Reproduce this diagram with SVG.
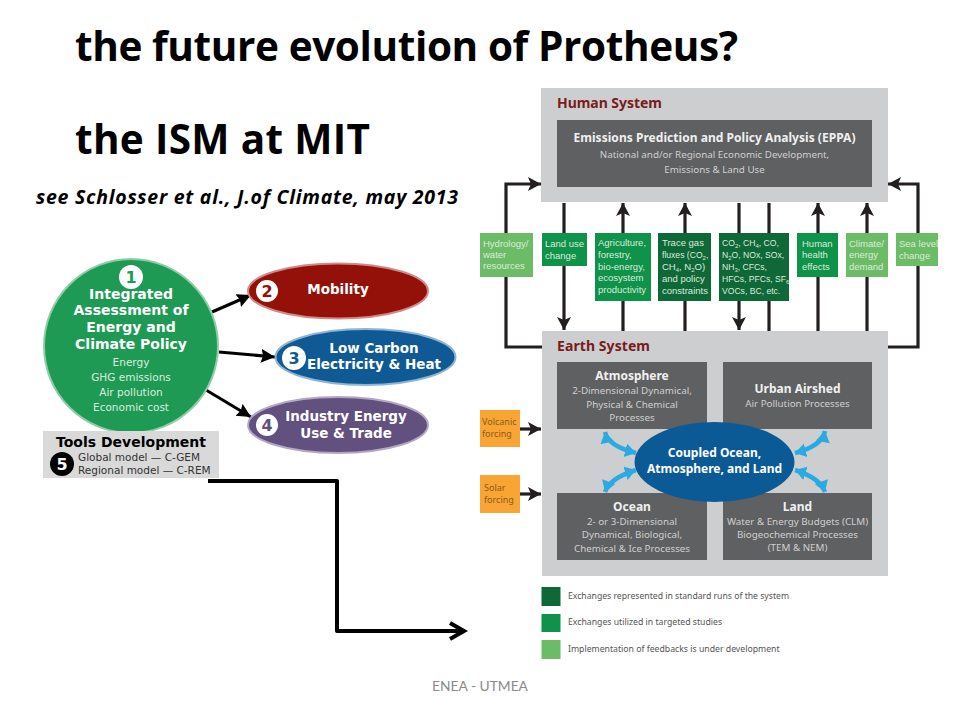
<svg xmlns="http://www.w3.org/2000/svg" width="960" height="720" viewBox="0 0 960 720">
<style>
text{font-family:"Noto Sans","Open Sans",sans-serif}
.t{font-family:"Open Sans","Noto Sans",sans-serif;font-weight:700;fill:#000}
.d{font-family:"DejaVu Sans",sans-serif}
.db{font-family:"DejaVu Sans",sans-serif;font-weight:700;fill:#fff;text-anchor:middle}
.ds{font-family:"DejaVu Sans",sans-serif;fill:#d8eedd;text-anchor:middle;font-size:10.5px}
.sys{font-weight:700;fill:#7a1c1c;font-size:14px}
.panel{fill:#cdced0}
.dark{fill:#5f6062}
.hb{font-weight:700;fill:#f0f0f0;font-size:12px;text-anchor:middle}
.hs{fill:#cfcfcf;font-size:9.8px;text-anchor:middle}
.g1{fill:#6cbb66}.g2{fill:#0f9249}.g3{fill:#0f6838}
.gt{font-family:"Liberation Sans","Noto Sans",sans-serif;fill:#dcebdc;font-size:9.5px}
.gs{font-size:8.6px}
.s{font-size:6px}
.or{fill:#f9a533}
.ot{fill:#8a5a1e;font-size:9px}
.leg{fill:#555;font-size:8.7px}
.ln{fill:none;stroke:#231f20;stroke-width:3.2}
.hd{marker-end:url(#h)}
.bl{fill:none;stroke:#29abe2;stroke-width:4.5;marker-start:url(#bs);marker-end:url(#be)}
.bk{fill:none;stroke:#000;stroke-width:3;marker-end:url(#k)}
.w{fill:#fff}
.num{font-family:"DejaVu Sans",sans-serif;font-weight:700;text-anchor:middle}
</style>
<defs>
<marker id="h" markerUnits="userSpaceOnUse" markerWidth="16" markerHeight="16" refX="13" refY="7" orient="auto"><path d="M0 0L13 7L0 14L3 7Z" fill="#231f20"/></marker>
<marker id="k" markerUnits="userSpaceOnUse" markerWidth="18" markerHeight="16" refX="14" refY="7" orient="auto"><path d="M0 0L14 7L0 14L2 7Z" fill="#000"/></marker>
<marker id="be" markerUnits="userSpaceOnUse" markerWidth="16" markerHeight="16" refX="11" refY="7" orient="auto"><path d="M0 0L11 7L0 14Z" fill="#29abe2"/></marker>
<marker id="bs" markerUnits="userSpaceOnUse" markerWidth="16" markerHeight="16" refX="0" refY="7" orient="auto"><path d="M11 0L0 7L11 14Z" fill="#29abe2"/></marker>
</defs>

<g id="title">
<text class="t" x="75" y="61" font-size="40.5" textLength="663">the future evolution of Protheus?</text>
<text class="t" x="75" y="154" font-size="40.5" textLength="295">the ISM at MIT</text>
<text class="t" x="36" y="204" font-size="19.5" font-style="italic" textLength="422">see Schlosser et al., J.of Climate, may 2013</text>
</g>

<g id="connectors">
<path class="ln hd" d="M506 233V184H541"/>
<path class="ln" d="M506 277V347H542"/>
<path class="ln hd" d="M918 233V184H888"/>
<path class="ln" d="M918 266V347H888"/>
<path class="ln" d="M564 203V233"/><path class="ln hd" d="M564 266V330"/>
<path class="ln hd" d="M623 233V203"/><path class="ln" d="M623 301V331"/>
<path class="ln hd" d="M685 233V203"/><path class="ln" d="M685 301V331"/>
<path class="ln" d="M739 203V233"/><path class="ln hd" d="M739 301V330"/>
<path class="ln" d="M769 203V233"/><path class="ln hd" d="M769 301V362"/>
<path class="ln hd" d="M818 233V203"/><path class="ln" d="M818 277V331"/>
<path class="ln hd" d="M867 233V203"/><path class="ln" d="M867 277V331"/>
<path class="bk" d="M212 312L251 295"/>
<path class="bk" d="M219 352L275 357"/>
<path class="bk" d="M206 390L251 417"/>
<path d="M208 481H337V631H463" fill="none" stroke="#000" stroke-width="4" stroke-linejoin="round"/>
<path d="M450 623L464 631L450 639" fill="none" stroke="#000" stroke-width="4"/>
</g>

<g id="human-system">
<rect class="panel" x="541" y="88" width="347" height="114"/>
<text class="sys" x="557" y="108" textLength="105">Human System</text>
</g>
<g id="eppa">
<rect class="dark" x="557" y="120" width="315" height="67"/>
<text class="hb" x="714.5" y="141.5" textLength="282">Emissions Prediction and Policy Analysis (EPPA)</text>
<text class="hs" x="714.5" y="158">National and/or Regional Economic Development,</text>
<text class="hs" x="714.5" y="173">Emissions &amp; Land Use</text>
</g>

<g id="hydrology"><rect class="g1" x="480" y="233" width="53" height="44"/><text class="gt" x="483" y="247">Hydrology/</text><text class="gt" x="483" y="258">water</text><text class="gt" x="483" y="269">resources</text></g>
<g id="land-use"><rect class="g2" x="542" y="233" width="45" height="33"/><text class="gt" x="545" y="247">Land use</text><text class="gt" x="545" y="259">change</text></g>
<g id="agriculture"><rect class="g2" x="595" y="233" width="56" height="68"/><text class="gt" x="598" y="246">Agriculture,</text><text class="gt" x="598" y="258">forestry,</text><text class="gt" x="598" y="270">bio-energy,</text><text class="gt" x="598" y="281">ecosystem</text><text class="gt" x="598" y="293">productivity</text></g>
<g id="trace-gas"><rect class="g3" x="658" y="233" width="53" height="68"/><text class="gt" x="662" y="246">Trace gas</text><text class="gt gs" x="662" y="258">fluxes (CO<tspan class="s" dy="2">2</tspan><tspan dy="-2">,</tspan></text><text class="gt" x="662" y="270">CH<tspan class="s" dy="2">4</tspan><tspan dy="-2">, N</tspan><tspan class="s" dy="2">2</tspan><tspan dy="-2">O)</tspan></text><text class="gt" x="662" y="282">and policy</text><text class="gt" x="662" y="294">constraints</text></g>
<g id="gases"><rect class="g3" x="719" y="233" width="70" height="68"/><text class="gt gs" x="722" y="246">CO<tspan class="s" dy="2">2</tspan><tspan dy="-2">, CH</tspan><tspan class="s" dy="2">4</tspan><tspan dy="-2">, CO,</tspan></text><text class="gt gs" x="722" y="258">N<tspan class="s" dy="2">2</tspan><tspan dy="-2">O, NOx, SOx,</tspan></text><text class="gt gs" x="722" y="270">NH<tspan class="s" dy="2">3</tspan><tspan dy="-2">, CFCs,</tspan></text><text class="gt gs" x="722" y="282">HFCs, PFCs, SF<tspan class="s" dy="2">6</tspan><tspan dy="-2">,</tspan></text><text class="gt gs" x="722" y="294">VOCs, BC, etc.</text></g>
<g id="health"><rect class="g2" x="797" y="233" width="41" height="44"/><text class="gt" x="802" y="247">Human</text><text class="gt" x="802" y="258">health</text><text class="gt" x="802" y="270">effects</text></g>
<g id="climate-demand"><rect class="g1" x="846" y="233" width="42" height="44"/><text class="gt" x="849" y="247">Climate/</text><text class="gt" x="849" y="258">energy</text><text class="gt" x="849" y="270">demand</text></g>
<g id="sea-level"><rect class="g1" x="896" y="233" width="42" height="33"/><text class="gt" x="899" y="247">Sea level</text><text class="gt" x="899" y="259">change</text></g>

<g id="earth-system">
<rect class="panel" x="542" y="331" width="346" height="245"/>
<text class="sys" x="557" y="351" textLength="93">Earth System</text>
</g>
<g id="atmosphere"><rect class="dark" x="557" y="362" width="150" height="67"/><text class="hb" x="632" y="379.5">Atmosphere</text><text class="hs" x="632" y="394">2-Dimensional Dynamical,</text><text class="hs" x="632" y="408">Physical &amp; Chemical</text><text class="hs" x="632" y="421">Processes</text></g>
<g id="urban"><rect class="dark" x="723" y="362" width="149" height="67"/><text class="hb" x="797.5" y="393">Urban Airshed</text><text class="hs" x="797.5" y="407">Air Pollution Processes</text></g>
<g id="ocean"><rect class="dark" x="557" y="493" width="150" height="67"/><text class="hb" x="632" y="510.5">Ocean</text><text class="hs" x="632" y="525">2- or 3-Dimensional</text><text class="hs" x="632" y="538">Dynamical, Biological,</text><text class="hs" x="632" y="552">Chemical &amp; Ice Processes</text></g>
<g id="land"><rect class="dark" x="723" y="493" width="149" height="67"/><text class="hb" x="797.5" y="510.5">Land</text><text class="hs" x="797.5" y="525">Water &amp; Energy Budgets (CLM)</text><text class="hs" x="797.5" y="538">Biogeochemical Processes</text><text class="hs" x="797.5" y="551">(TEM &amp; NEM)</text></g>
<g id="coupled"><ellipse cx="714.5" cy="462" rx="80" ry="40" fill="#0b5a96"/><text x="714.5" y="457" font-size="12" font-weight="700" fill="#fff" text-anchor="middle">Coupled Ocean,</text><text x="714.5" y="473" font-size="12" font-weight="700" fill="#fff" text-anchor="middle">Atmosphere, and Land</text></g>

<g id="exchange-arrows">
<path class="bl" d="M605 432Q608 446 636 453"/>
<path class="bl" d="M825 431Q822 446 795 453"/>
<path class="bl" d="M605 492Q610 478 636 470"/>
<path class="bl" d="M825 492Q820 478 795 470"/>
</g>

<g id="volcanic"><rect class="or" x="480" y="410" width="40" height="37"/><text class="ot" x="482" y="425">Volcanic</text><text class="ot" x="482" y="437">forcing</text></g>
<g id="solar"><rect class="or" x="480" y="475" width="40" height="38"/><text class="ot" x="484" y="491">Solar</text><text class="ot" x="484" y="503">forcing</text></g>
<g id="forcing-arrows">
<path class="ln hd" d="M520 429H541"/>
<path class="ln hd" d="M520 494H541"/>
</g>

<g id="legend">
<rect class="g3" x="541.5" y="587" width="19" height="19"/><text class="leg" x="568" y="599" textLength="221">Exchanges represented in standard runs of the system</text>
<rect class="g2" x="541.5" y="614" width="19" height="18"/><text class="leg" x="568" y="625">Exchanges utilized in targeted studies</text>
<rect class="g1" x="541.5" y="640" width="19" height="19"/><text class="leg" x="568" y="652">Implementation of feedbacks is under development</text>
</g>

<g id="policy">
<circle cx="131" cy="346" r="87" fill="#1f9a55" stroke="#8fcda6" stroke-width="2"/>
<circle class="w" cx="131" cy="277" r="12"/><text class="num" x="131" y="283" font-size="16" fill="#1f9a55">1</text>
<text class="db" x="131" y="299" font-size="14">Integrated</text>
<text class="db" x="131" y="315" font-size="14">Assessment of</text>
<text class="db" x="131" y="332" font-size="14">Energy and</text>
<text class="db" x="131" y="349" font-size="14">Climate Policy</text>
<text class="ds" x="131" y="366">Energy</text>
<text class="ds" x="131" y="381">GHG emissions</text>
<text class="ds" x="131" y="396">Air pollution</text>
<text class="ds" x="131" y="411">Economic cost</text>
</g>
<g id="mobility">
<ellipse cx="338" cy="291" rx="90" ry="27.5" fill="#931109" stroke="#d08a88" stroke-width="2"/>
<circle class="w" cx="267" cy="291" r="11"/><text class="num" x="267" y="297" font-size="16" fill="#931109">2</text>
<text class="db" x="338" y="294" font-size="13.5">Mobility</text>
</g>
<g id="low-carbon">
<ellipse cx="365.5" cy="357" rx="90" ry="28" fill="#0f5a94" stroke="#8fb5d3" stroke-width="2"/>
<circle class="w" cx="294" cy="358" r="12"/><text class="num" x="294" y="364" font-size="16" fill="#0f5a94">3</text>
<text class="db" x="374" y="353" font-size="13.5">Low Carbon</text>
<text class="db" x="374" y="369" font-size="13.5" textLength="134">Electricity &amp; Heat</text>
</g>
<g id="industry">
<ellipse cx="338" cy="425" rx="90" ry="28" fill="#62507f" stroke="#b3a8c4" stroke-width="2"/>
<circle class="w" cx="267" cy="425" r="11"/><text class="num" x="267" y="431" font-size="16" fill="#62507f">4</text>
<text class="db" x="346" y="421" font-size="13.5">Industry Energy</text>
<text class="db" x="346" y="438" font-size="13.5">Use &amp; Trade</text>
</g>
<g id="tools">
<rect x="43" y="431" width="176" height="47" fill="#d9d9d9"/>
<text class="num" x="131" y="447" font-size="14" fill="#000">Tools Development</text>
<circle cx="62" cy="464" r="12" fill="#000"/><text class="num" x="62" y="470" font-size="16" fill="#fff">5</text>
<text class="d" x="78" y="461" font-size="10.5" fill="#333">Global model — C-GEM</text>
<text class="d" x="78" y="474" font-size="10.5" fill="#333">Regional model — C-REM</text>
</g>

<g id="footer"><text x="480" y="691" font-size="13.8" fill="#8a8a8a" text-anchor="middle" style="font-family:Lato,sans-serif">ENEA - UTMEA</text></g>
</svg>
